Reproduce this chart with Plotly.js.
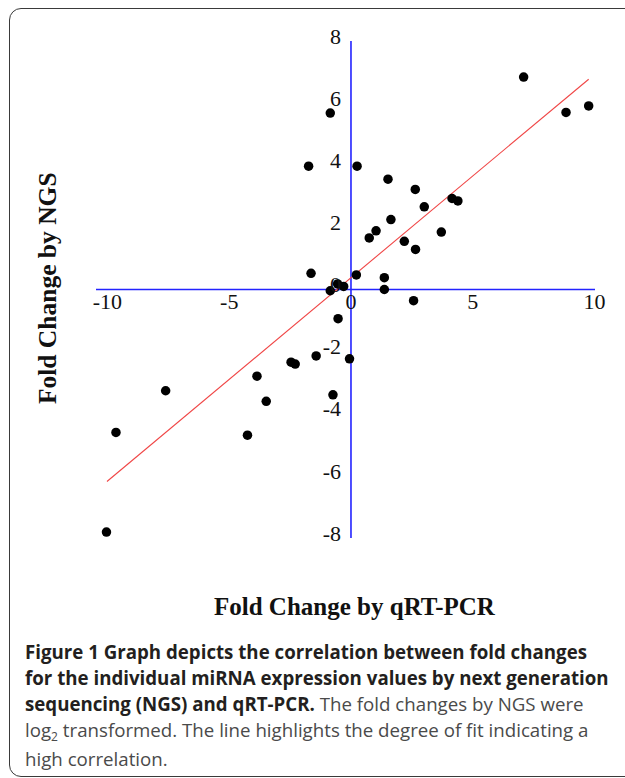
<!DOCTYPE html>
<html>
<head>
<meta charset="utf-8">
<script src="https://cdn.plot.ly/plotly-3.0.1.min.js"></script>
<style>
  html, body { margin: 0; padding: 0; background: #fff; width: 625px; height: 778px; overflow: hidden; }
  #frame { position: absolute; left: 9px; top: 8px; width: 720px; height: 769px;
           border: 1.5px solid #3a3a3a; border-radius: 12px; box-sizing: border-box; }
  #chart { position: absolute; left: 0; top: 0; width: 625px; height: 778px; }
  #caption { position: absolute; left: 25px; top: 639px; font-family: "Open Sans", sans-serif;
             font-size: 18.7px; line-height: 25.9px; color: #4a4a4a; white-space: nowrap; }
  #caption b { color: #231f20; font-weight: 700; }
  #caption .sub { position: relative; top: 4px; font-size: 12px; }
</style>
</head>
<body>
<div id="frame"></div>
<div id="chart"></div>
<div id="caption">
<b>Figure 1 Graph depicts the correlation between fold changes</b><br>
<b>for the individual miRNA expression values by next generation</b><br>
<b>sequencing (NGS) and qRT-PCR.</b> The fold changes by NGS were<br>
log<span class="sub">2</span> transformed. The line highlights the degree of fit indicating a<br>
high correlation.
</div>
<script>
// Data (x = qRT-PCR fold change, y = NGS log2 fold change)
const qrtPCR = [-1.74, 0.25, 1.52, 2.64, 3.01, 4.15, 4.39, 1.64, 1.03, 0.75, 3.71, 2.19, 2.65,
                -1.64, 0.22, 1.37, 1.37, 2.57, -0.85, -0.55, -0.30, -0.53, -0.06, -1.43, -2.46,
                -2.29, -7.61, -9.65, -10.04, -3.86, -3.48, -4.25, -0.74, 7.09, 8.83, 9.76, -0.85];
const ngs    = [3.97, 3.97, 3.55, 3.22, 2.66, 2.93, 2.85, 2.25, 1.89, 1.66, 1.85, 1.55, 1.29,
                0.52, 0.47, 0.38, 0.00, -0.36, -0.04, 0.18, 0.10, -0.94, -2.23, -2.14, -2.34,
                -2.40, -3.26, -4.60, -7.81, -2.79, -3.60, -4.69, -3.39, 6.84, 5.70, 5.91, 5.68];
// Fitted line end points
const fitX = [-10.02, 9.76];
const fitY = [-6.18, 6.77];
const xTicks = [-10, -5, 0, 5, 10];
const yTicks = [-8, -6, -4, -2, 0, 2, 4, 6, 8];
const xTitle = "Fold Change by qRT-PCR";
const yTitle = "Fold Change by NGS";

const xRange = [-10.47, 10.02];
const yRange = [-8, 8];
const blue = "rgb(35,35,255)";
const serif = "Liberation Serif, Times New Roman, serif";
const tickFont = { family: serif, size: 22, color: "#111" };

const traces = [
  { x: fitX, y: fitY, type: "scatter", mode: "lines",
    line: { color: "rgb(240,70,70)", width: 1.1 }, hoverinfo: "skip", cliponaxis: false },
  { x: qrtPCR, y: ngs, type: "scatter", mode: "markers",
    marker: { color: "#000", size: 9.5 }, cliponaxis: false }
];

const layout = {
  width: 625, height: 778,
  margin: { l: 96, r: 30, t: 41, b: 240 },
  paper_bgcolor: "rgba(0,0,0,0)", plot_bgcolor: "rgba(0,0,0,0)",
  showlegend: false,
  xaxis: {
    range: xRange, anchor: "free", position: 0.5,
    showline: false, showgrid: false, ticks: "", zeroline: false,
    tickmode: "array", tickvals: xTicks, ticktext: xTicks.map(String),
    tickfont: tickFont, ticklabelstandoff: -4
  },
  yaxis: {
    range: yRange, anchor: "free",
    position: (0 - xRange[0]) / (xRange[1] - xRange[0]),
    showline: false, showgrid: false, ticks: "", zeroline: false,
    tickmode: "array", tickvals: yTicks, ticktext: yTicks.map(String),
    tickfont: tickFont, ticklabelstandoff: 10, ticklabelshift: -5
  },
  shapes: [
    { type: "line", layer: "below", xref: "x", yref: "paper", x0: 0, x1: 0, y0: 0, y1: 1,
      line: { color: blue, width: 1.6 } },
    { type: "line", layer: "below", xref: "paper", yref: "y", x0: 0, x1: 1, y0: 0, y1: 0,
      line: { color: blue, width: 1.6 } }
  ],
  annotations: [
    { text: "<b>" + xTitle + "</b>", xref: "paper", yref: "paper",
      x: 0.52, y: -0.138, xanchor: "center", yanchor: "middle", showarrow: false,
      font: { family: serif, size: 25, color: "#111" } },
    { text: "<b>" + yTitle + "</b>", xref: "paper", yref: "paper",
      x: -0.098, y: 0.503, xanchor: "center", yanchor: "middle", showarrow: false, textangle: -90,
      font: { family: serif, size: 25.5, color: "#111" } }
  ]
};

Plotly.newPlot("chart", traces, layout, { displayModeBar: false, staticPlot: true });
</script>
</body>
</html>
